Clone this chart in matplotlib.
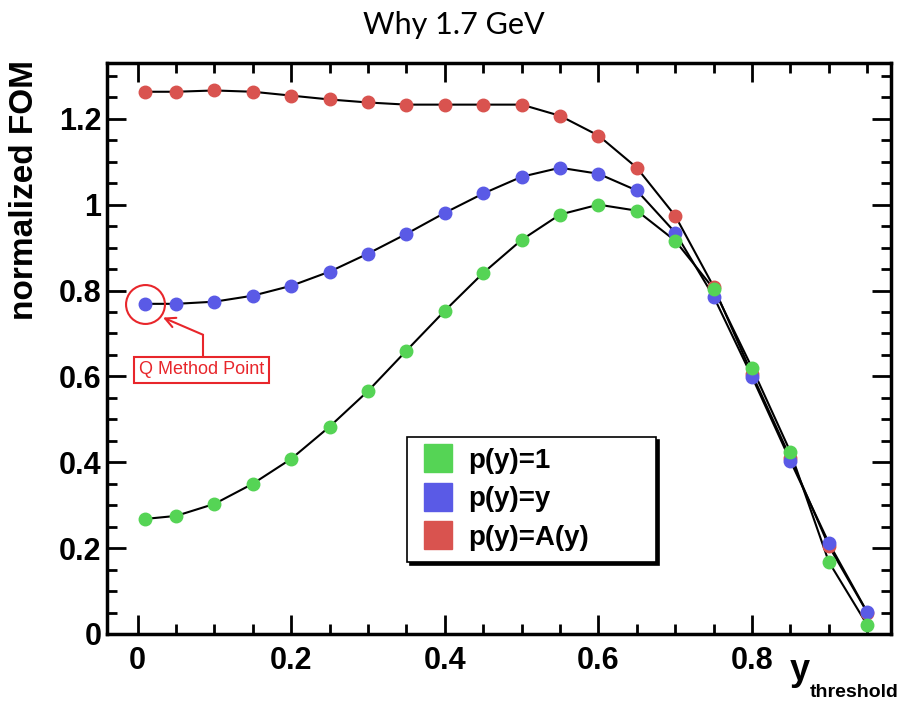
import matplotlib
matplotlib.use("Agg")
import matplotlib.pyplot as plt
from matplotlib.lines import Line2D
from matplotlib.ticker import MultipleLocator, FuncFormatter

# y threshold values
y_thr = [0.01, 0.05, 0.1, 0.15, 0.2, 0.25, 0.3, 0.35, 0.4, 0.45,
         0.5, 0.55, 0.6, 0.65, 0.7, 0.75, 0.8, 0.85, 0.9, 0.95]

fom_p1 = [0.268, 0.275, 0.303, 0.350, 0.408, 0.483, 0.566, 0.660, 0.753, 0.841,
          0.918, 0.977, 1.000, 0.986, 0.916, 0.804, 0.620, 0.424, 0.168, 0.021]
fom_py = [0.769, 0.769, 0.774, 0.788, 0.811, 0.844, 0.886, 0.932, 0.981, 1.026,
          1.065, 1.086, 1.072, 1.033, 0.935, 0.786, 0.599, 0.403, 0.212, 0.051]
fom_pA = [1.263, 1.263, 1.266, 1.263, 1.254, 1.245, 1.238, 1.233, 1.233, 1.233,
          1.233, 1.207, 1.161, 1.086, 0.974, 0.809, 0.605, 0.410, 0.205, 0.050]

labels = ["p(y)=1", "p(y)=y", "p(y)=A(y)"]
colors = ["#55d455", "#5a5ae6", "#d9534f"]

plt.rcParams['font.family'] = ['Liberation Sans', 'DejaVu Sans']

fig = plt.figure(figsize=(9.08, 7.03), dpi=100)
ax = fig.add_axes([0.1178, 0.0982, 0.8635, 0.8122])

# draw red first so the others sit on top where they overlap
for ys, c in [(fom_pA, colors[2]), (fom_py, colors[1]), (fom_p1, colors[0])]:
    ax.plot(y_thr, ys, color='black', lw=1.5, zorder=2)
    ax.plot(y_thr, ys, 'o', color=c, ms=9, mec=c, zorder=3)

ax.set_xlim(-0.04, 0.981)
ax.set_ylim(0, 1.33)

ax.xaxis.set_major_locator(MultipleLocator(0.2))
ax.xaxis.set_minor_locator(MultipleLocator(0.05))
ax.yaxis.set_major_locator(MultipleLocator(0.2))
ax.yaxis.set_minor_locator(MultipleLocator(0.05))
ax.xaxis.set_major_formatter(FuncFormatter(lambda v, p: "%g" % round(v, 2)))
ax.yaxis.set_major_formatter(FuncFormatter(lambda v, p: "%g" % round(v, 2)))

ax.tick_params(which='both', direction='in', top=True, right=True, width=2)
ax.tick_params(which='major', length=14, labelsize=22)
ax.tick_params(axis='x', which='major', pad=9)
ax.tick_params(axis='y', which='major', pad=4)
ax.tick_params(which='minor', length=7)
for lab in ax.get_xticklabels() + ax.get_yticklabels():
    lab.set_fontweight('bold')
for s in ax.spines.values():
    s.set_linewidth(2.5)

ax.text(-0.105, 1.005, "normalized FOM", transform=ax.transAxes, rotation=90,
        ha='center', va='top', fontsize=24, fontweight='bold')
ax.text(0.871, -0.033, "y", transform=ax.transAxes, ha='left', va='top',
        fontsize=26, fontweight='bold')
ax.text(0.896, -0.088, "threshold", transform=ax.transAxes, ha='left', va='top',
        fontsize=14, fontweight='bold')

fig.text(0.5, 0.965, "Why 1.7 GeV", ha='center', va='center', fontsize=22,
         family=['Lato', 'DejaVu Sans'])

# Q method annotation
ax.plot([y_thr[0]], [fom_py[0]], 'o', ms=28, mfc='none', mec='#e8262b', mew=1.5, zorder=4)
ax.plot([0.085, 0.085], [0.643, 0.697], color='#e8262b', lw=1.5)
ax.annotate("", xy=(0.033, 0.737), xytext=(0.085, 0.697),
            arrowprops=dict(arrowstyle='->', color='#e8262b', lw=1.5,
                            mutation_scale=18, shrinkA=0, shrinkB=0))
ax.text(0.083, 0.615, "Q Method Point", ha='center', va='center', fontsize=13,
        color='#e8262b',
        bbox=dict(boxstyle='square,pad=0.25', fc='white', ec='#e8262b', lw=1.5))

handles = [Line2D([], [], ls='none', marker='s', ms=20, color=c, mec=c) for c in colors]
leg = ax.legend(handles, labels, loc='lower left',
                bbox_to_anchor=(0.383, 0.126, 0.317, 0.249), mode='expand',
                fancybox=False, shadow={'color': 'black', 'alpha': 1},
                edgecolor='black', framealpha=1, borderaxespad=0,
                prop={'weight': 'bold', 'size': 20}, labelspacing=0.45,
                handletextpad=0.4, handlelength=1.4, borderpad=0.4)
leg.get_frame().set_linewidth(1.2)

fig.savefig("out.png", dpi=100)
